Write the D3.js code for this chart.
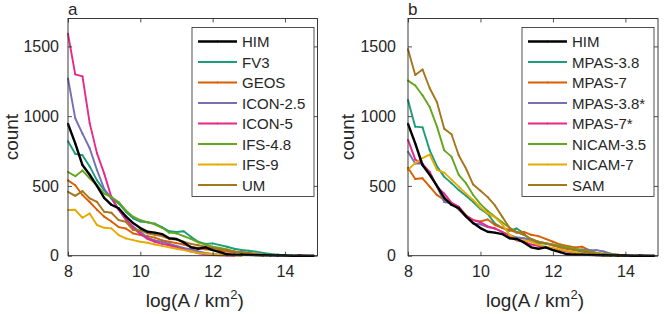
<!DOCTYPE html>
<html>
<head>
<meta charset="utf-8">
<script src="https://cdn.jsdelivr.net/npm/d3@7"></script>
<style>
  body { margin: 0; background: #fff; }
  text { font-family: "Liberation Sans", Arial, Helvetica, sans-serif; fill: #262626; }
</style>
</head>
<body>
<div id="chart"></div>
<script>

// bin centres, log(A / km^2)
var xBins = [8.0, 8.2, 8.4, 8.6, 8.8, 9.0, 9.2, 9.4, 9.6, 9.8, 10.0, 10.2, 10.4, 10.6, 10.8, 11.0, 11.2, 11.4,
             11.6, 11.8, 12.0, 12.2, 12.4, 12.6, 12.8, 13.0, 13.2, 13.4, 13.6, 13.8, 14.0, 14.2, 14.4, 14.6, 14.8];

var xTicks = [8, 10, 12, 14];
var yTicks = [0, 500, 1000, 1500];

// observations (both panels)
var him = [945, 805, 650, 580, 500, 415, 365, 340, 282, 234, 198, 172, 165, 155, 125, 120, 95, 60, 50, 60,
           40, 25, 10, 8, 8, 6, 4, 3, 2, 1, 1, 0, 1, 0, 0];

// panel a
var fv3 = [820, 730, 720, 640, 540, 470, 410, 375, 315, 268, 245, 240, 230, 205, 175, 170, 175, 135, 100, 85,
           88, 76, 64, 50, 41, 35, 29, 20, 12, 8, 4, 2];
var geos = [540, 505, 435, 385, 330, 280, 245, 205, 195, 160, 148, 140, 130, 110, 100, 90, 80, 65, 55, 45,
            40, 35, 30, 25, 25, 20, 12, 5, 2];
var icon25 = [1270, 985, 875, 770, 615, 480, 410, 330, 260, 210, 170, 130, 110, 100, 85, 70, 55, 45, 30, 20,
              12, 8, 5, 2, 1];
var icon5 = [1590, 1300, 1285, 950, 735, 590, 420, 330, 260, 200, 155, 120, 100, 85, 75, 60, 45, 30, 18, 10,
             5, 3, 1, 0];
var ifs48 = [600, 570, 610, 555, 505, 445, 420, 385, 325, 280, 255, 240, 225, 200, 165, 160, 140, 120, 95, 80,
             65, 55, 45, 30, 20, 10, 5, 2];
var ifs9 = [327, 329, 272, 303, 220, 200, 196, 148, 124, 112, 100, 93, 80, 70, 60, 50, 40, 30, 20, 15,
            10, 6, 4, 2, 1];
var um = [458, 429, 463, 411, 386, 315, 308, 255, 243, 184, 181, 160, 150, 140, 120, 115, 100, 85, 75, 65,
          55, 45, 40, 30, 25, 20, 12, 8, 4, 2];

// panel b
var mpas38 = [1115, 925, 920, 755, 640, 565, 520, 470, 430, 385, 335, 300, 230, 200, 178, 195, 160, 105, 92, 85,
              76, 68, 55, 40, 30, 20, 12, 8, 4, 2];
var mpas7 = [630, 550, 555, 495, 435, 400, 375, 350, 290, 255, 245, 260, 220, 200, 185, 165, 170, 150, 140, 120,
             100, 80, 70, 60, 65, 40, 20, 10, 5, 2, 1];
var mpas38s = [745, 660, 660, 590, 495, 385, 375, 330, 280, 230, 225, 205, 195, 170, 150, 130, 125, 110, 100, 90,
               75, 60, 50, 45, 45, 40, 40, 30, 15, 8, 3, 1];
var mpas7s = [830, 690, 655, 600, 495, 445, 380, 350, 285, 255, 240, 210, 195, 170, 140, 110, 100, 80, 70, 60,
              50, 40, 30, 20, 15, 10, 5, 3, 1];
var nicam35 = [1255, 1220, 1150, 1065, 925, 755, 710, 580, 520, 435, 370, 320, 280, 240, 200, 170, 150, 120, 100, 90,
               80, 70, 60, 50, 40, 30, 20, 15, 10, 5, 2];
var nicam7 = [615, 665, 700, 725, 615, 595, 545, 495, 445, 400, 345, 305, 275, 225, 150, 115, 110, 100, 80, 65,
              55, 45, 35, 25, 15, 10, 5, 3, 1];
var sam = [1480, 1295, 1335, 1200, 1100, 910, 870, 720, 625, 510, 465, 420, 360, 280, 200, 170, 150, 120, 95, 90,
           75, 60, 50, 40, 35, 25, 15, 10, 5, 3, 1];

var namesA = ["HIM", "FV3", "GEOS", "ICON-2.5", "ICON-5", "IFS-4.8", "IFS-9", "UM"];
var seriesA = [him, fv3, geos, icon25, icon5, ifs48, ifs9, um];
var namesB = ["HIM", "MPAS-3.8", "MPAS-7", "MPAS-3.8*", "MPAS-7*", "NICAM-3.5", "NICAM-7", "SAM"];
var seriesB = [him, mpas38, mpas7, mpas38s, mpas7s, nicam35, nicam7, sam];

// colorbrewer Dark2, HIM in black
var colors = ["#000000", "#1b9e77", "#d95f02", "#7570b3", "#e7298a", "#66a61e", "#e6ab02", "#a6761d"];

(function () {

    "use strict";

    var W = 664, H = 314,
        axisColor = "#262626";

    var svg = d3.select("#chart")
        .append("svg")
            .attr("width", W)
            .attr("height", H);

    svg.append("rect")
        .attr("width", W).attr("height", H)
        .attr("fill", "#fff");

    function drawPanel(p) {

        var x = d3.scaleLinear().domain([8, 14.9]).range([p.left, p.right]),
            y = d3.scaleLinear().domain([0, 1700]).range([p.bottom, p.top]);

        var g = svg.append("g");

        // series lines, HIM drawn last so it sits on top
        var line = d3.line()
            .x(function (d, i) { return x(xBins[i]); })
            .y(function (d) { return y(d); });

        var order = d3.range(1, p.series.length).concat([0]);

        order.forEach(function (k) {
            var s = p.series[k];
            g.append("path")
                .attr("d", line(s))
                .attr("fill", "none")
                .attr("stroke", colors[k])
                .attr("stroke-width", k === 0 ? 2.4 : 1.9)
                .attr("stroke-linejoin", "round");

            g.selectAll(null)
                .data(s)
                .enter()
                .append("circle")
                    .attr("cx", function (d, i) { return x(xBins[i]); })
                    .attr("cy", function (d) { return y(d); })
                    .attr("r", 1)
                    .attr("fill", colors[k]);
        });

        // axes with inward ticks, mirrored on top / right
        var ax = g.append("g").attr("class", "axes");

        ax.append("g")
            .attr("transform", "translate(" + p.left + ",0)")
            .call(d3.axisLeft(y).tickValues(yTicks).tickFormat(d3.format("d"))
                .tickSizeInner(-4).tickSizeOuter(0).tickPadding(p.yPad));

        ax.append("g")
            .attr("transform", "translate(0," + p.bottom + ")")
            .call(d3.axisBottom(x).tickValues(xTicks).tickFormat(d3.format("d"))
                .tickSizeInner(-4).tickSizeOuter(0).tickPadding(10));

        ax.append("g")
            .attr("transform", "translate(" + p.right + ",0)")
            .call(d3.axisRight(y).tickValues(yTicks).tickSizeInner(-4).tickSizeOuter(0).tickFormat(""));

        ax.append("g")
            .attr("transform", "translate(0," + p.top + ")")
            .call(d3.axisTop(x).tickValues(xTicks).tickSizeInner(-4).tickSizeOuter(0).tickFormat(""));

        ax.selectAll(".domain").remove();
        ax.selectAll(".tick line").attr("stroke", axisColor).attr("stroke-width", 0.8);
        ax.selectAll(".tick text")
            .attr("fill", axisColor)
            .style("font-size", "16px")
            .style("font-family", "'Liberation Sans', Arial, sans-serif");

        ax.append("rect")
            .attr("x", p.left).attr("y", p.top)
            .attr("width", p.right - p.left).attr("height", p.bottom - p.top)
            .attr("fill", "none")
            .attr("stroke", axisColor)
            .attr("stroke-width", 0.9);

        // labels
        g.append("text")
            .attr("x", p.left).attr("y", 15)
            .style("font-size", "17px")
            .text(p.letter);

        g.append("text")
            .attr("transform", "translate(" + p.yLabelX + "," + ((p.top + p.bottom) / 2) + ") rotate(-90)")
            .attr("text-anchor", "middle")
            .style("font-size", "19px")
            .text("count");

        var xl = g.append("text")
            .attr("x", (p.left + p.right) / 2 + 2)
            .attr("y", 307)
            .attr("text-anchor", "middle")
            .style("font-size", "19px");
        xl.append("tspan").text("log(A / km");
        xl.append("tspan").attr("dy", -8).style("font-size", "13px").text("2");
        xl.append("tspan").attr("dy", 8).text(")");

        // legend
        var lg = g.append("g");
        lg.append("rect")
            .attr("x", p.legX).attr("y", 27.5)
            .attr("width", p.legW).attr("height", 169)
            .attr("fill", "#fff")
            .attr("stroke", axisColor)
            .attr("stroke-width", 0.8);

        p.names.forEach(function (name, k) {
            var cy = 41.5 + k * 20.5;
            lg.append("line")
                .attr("x1", p.legX + 6).attr("x2", p.legX + 45)
                .attr("y1", cy).attr("y2", cy)
                .attr("stroke", colors[k])
                .attr("stroke-width", k === 0 ? 2.4 : 1.9);
            lg.append("circle")
                .attr("cx", p.legX + 25.5).attr("cy", cy)
                .attr("r", 1).attr("fill", colors[k]);
            lg.append("text")
                .attr("x", p.legX + 50).attr("y", cy + 5.5)
                .style("font-size", "15px")
                .attr("fill", "#000")
                .text(name);
        });
    }

    drawPanel({
        letter: "a", names: namesA, series: seriesA,
        left: 68, right: 317.5, top: 18.5, bottom: 255.7,
        yPad: 9, yLabelX: 18,
        legX: 192, legW: 122
    });

    drawPanel({
        letter: "b", names: namesB, series: seriesB,
        left: 408, right: 658, top: 18.5, bottom: 255.7,
        yPad: 12, yLabelX: 354,
        legX: 522, legW: 132
    });

}());
</script>
</body>
</html>
